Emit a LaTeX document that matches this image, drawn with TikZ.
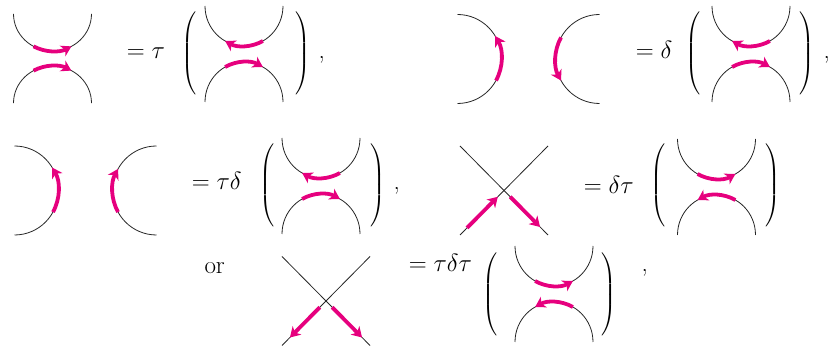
\documentclass[tikz,border=0pt]{standalone}
\usepackage{amsmath}
\usepackage{tikz}
\usetikzlibrary{arrows.meta, calc}
\definecolor{flowpink}{RGB}{230,0,126}

\begin{document}
\begin{tikzpicture}[x=1pt, y=1pt, >={Stealth[length=10pt, width=12pt, inset=3pt]},
  wire/.style={draw=black!85, line width=0.8pt},
  flow/.style={draw=flowpink, line width=3.8pt, ->},
  eq/.style={inner sep=0pt, anchor=base west, font=\fontsize{25}{30}\selectfont},
  paren/.style={inner sep=0pt, font=\fontsize{16}{20}\selectfont},
  pics/hpair/.style 2 args={code={
    \draw[wire] (-39,48) arc[start angle=180, end angle=360, x radius=39, y radius=40];
    \draw[wire] (-39,-48) arc[start angle=180, end angle=0, x radius=39, y radius=40];
    \draw[flow, #1] ($(0,48)+(241:39 and 40)$) arc[start angle=241, end angle=299, x radius=39, y radius=40];
    \draw[flow, #2] ($(0,-48)+(119:39 and 40)$) arc[start angle=119, end angle=61, x radius=39, y radius=40];
  }},
  pics/vpair/.style 2 args={code={
    \draw[wire] (-71,44.5) arc[start angle=90, end angle=-90, x radius=44, y radius=44.5];
    \draw[wire] (71,44.5) arc[start angle=90, end angle=270, x radius=44, y radius=44.5];
    \draw[flow, #1] ($(-71,0)+(-29:44 and 44.5)$) arc[start angle=-29, end angle=31, x radius=44, y radius=44.5];
    \draw[flow, #2] ($(71,0)+(209:44 and 44.5)$) arc[start angle=209, end angle=151, x radius=44, y radius=44.5];
  }},
  cross/.pic={
    \coordinate (-c) at (0,0);
    \coordinate (-nw) at (-44,44.5);
    \coordinate (-ne) at (44,44.5);
    \coordinate (-sw) at (-44,-44.5);
    \coordinate (-se) at (44,-44.5);
    \draw[wire] (-nw) -- (-se);
    \draw[wire] (-ne) -- (-sw);
  }]
\useasboundingbox (0,0) rectangle (833,350);

% top row
\pic[yscale=0.93] at (52.5,291.5) {hpair={->}{->}};
\node[eq] (eqA) at (126.6,291.75) {$=\tau$};
\node[paren] (Al) at (190,296.5) {$\left(\vcenter{\hbox{\rule{0pt}{80pt}}}\right.$};
\pic at (244,296) {hpair={<-}{->}};
\node[paren] (Ar) at (302.5,296.5) {$\left.\vcenter{\hbox{\rule{0pt}{80pt}}}\right)$};
\node[eq] (cA) at (318.5,291.5) {,};

\pic at (528.5,291) {vpair={->}{<-}};
\node[eq] (eqB) at (635.6,291.75) {$=\delta$};
\node[paren] (Bl) at (694,296.5) {$\left(\vcenter{\hbox{\rule{0pt}{80pt}}}\right.$};
\pic at (751,296) {hpair={<-}{->}};
\node[paren] (Br) at (806,296.5) {$\left.\vcenter{\hbox{\rule{0pt}{80pt}}}\right)$};
\node[eq] (cB) at (823.5,291.5) {,};

% middle row
\pic at (85.5,159.5) {vpair={->}{->}};
\node[eq] (eqC) at (191.6,160.75) {$=\tau\delta$};
\node[paren] (Cl) at (267.5,165) {$\left(\vcenter{\hbox{\rule{0pt}{80pt}}}\right.$};
\pic at (321,164) {hpair={<-}{->}};
\node[paren] (Cr) at (377.5,165) {$\left.\vcenter{\hbox{\rule{0pt}{80pt}}}\right)$};
\node[eq] (cC) at (393.5,160) {,};

\pic (D) at (504,159.5) {cross};
\draw[flow] ($(D-c)!0.84!(D-sw)$) -- ($(D-c)!0.14!(D-sw)$);
\draw[flow] ($(D-c)!0.14!(D-se)$) -- ($(D-c)!0.82!(D-se)$);
\node[eq] (eqD) at (583.6,156.75) {$=\delta\tau$};
\node[paren] (Dl) at (659,165) {$\left(\vcenter{\hbox{\rule{0pt}{80pt}}}\right.$};
\pic at (716.5,163) {hpair={->}{<-}};
\node[paren] (Dr) at (772.5,165) {$\left.\vcenter{\hbox{\rule{0pt}{80pt}}}\right)$};

% bottom row
\node[eq] (or) at (204.3,76.6) {or};
\pic (E) at (326,49) {cross};
\draw[flow] ($(E-c)!0.14!(E-sw)$) -- ($(E-c)!0.82!(E-sw)$);
\draw[flow] ($(E-c)!0.14!(E-se)$) -- ($(E-c)!0.82!(E-se)$);
\node[eq] (eqE) at (408.6,78.75) {$=\tau\delta\tau$};
\node[paren] (El) at (491,55.5) {$\left(\vcenter{\hbox{\rule{0pt}{80pt}}}\right.$};
\pic at (554,56) {hpair={->}{<-}};
\node[paren] (Er) at (608.5,55.5) {$\left.\vcenter{\hbox{\rule{0pt}{80pt}}}\right)$};
\node[eq] (cE) at (641.5,78) {,};
\end{tikzpicture}
\end{document}
